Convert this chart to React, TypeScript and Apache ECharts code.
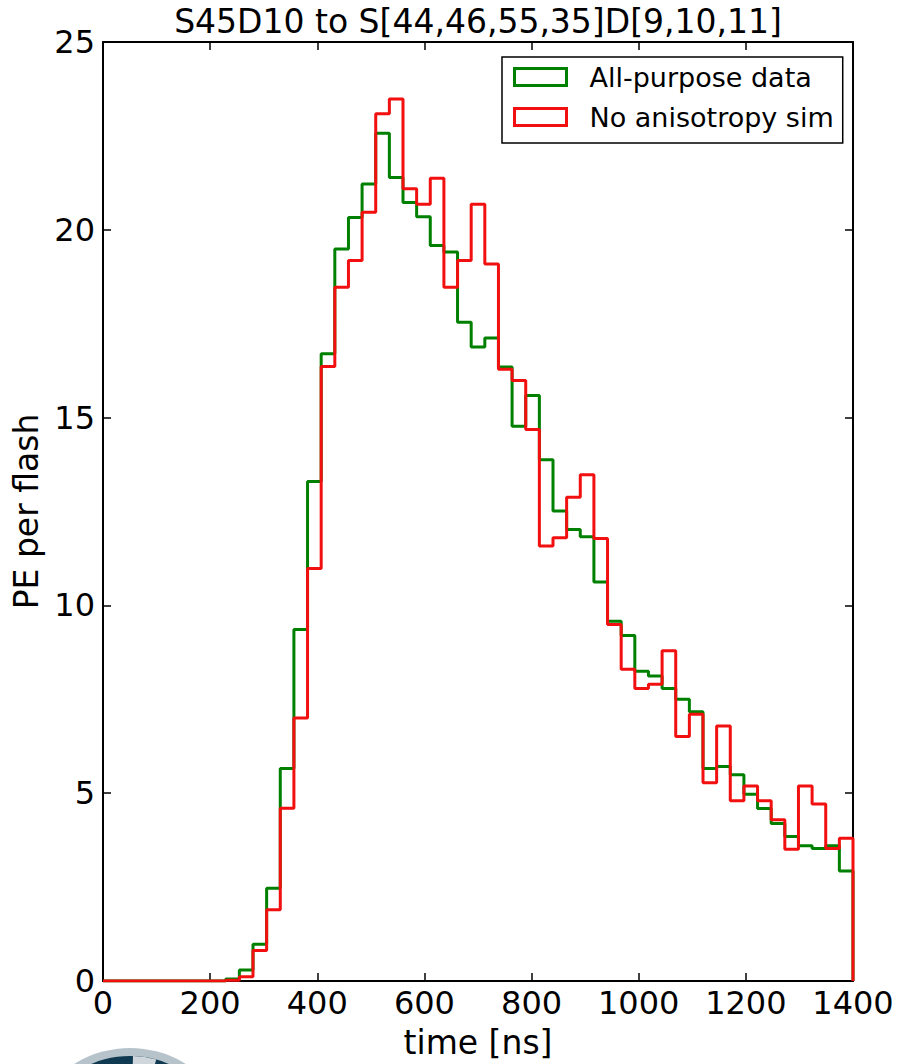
import React, { useEffect, useRef } from "react";
import * as echarts from "echarts";

const TITLE = "S45D10 to S[44,46,55,35]D[9,10,11]";
const X_NAME = "time [ns]";
const Y_NAME = "PE per flash";
const SERIES_NAMES = ["All-purpose data", "No anisotropy sim"];
const X_MIN = 0;
const X_MAX = 1400;
const X_STEP = 200;
const Y_MIN = 0;
const Y_MAX = 25;
const Y_STEP = 5;

// PE per flash in each of the 55 equal time bins between 0 and 1400 ns
const dataValues = [
  0, 0, 0, 0, 0, 0, 0, 0, 0, 0.05,
  0.29, 0.98, 2.47, 5.66, 9.36, 13.3, 16.7, 19.49, 20.33, 21.22,
  22.57, 21.39, 20.73, 20.35, 19.58, 19.41, 17.54, 16.88, 17.12, 16.35,
  14.77, 15.59, 13.88, 12.51, 12.02, 11.83, 10.62, 9.58, 9.2, 8.25,
  8.12, 7.79, 7.5, 7.17, 5.66, 5.71, 5.49, 4.97, 4.59, 4.19,
  3.85, 3.6, 3.53, 3.6, 2.93,
];
const simValues = [
  0, 0, 0, 0, 0, 0, 0, 0, 0, 0.02,
  0.11, 0.81, 1.9, 4.6, 7.0, 10.98, 16.36, 18.47, 19.18, 20.47,
  23.09, 23.48, 21.09, 20.68, 21.37, 18.47, 19.18, 20.68, 19.09, 16.29,
  15.99, 14.68, 11.58, 11.8, 12.88, 13.48, 11.78, 9.49, 8.3, 7.79,
  7.9, 8.79, 6.51, 7.1, 5.28, 6.79, 4.8, 5.19, 4.8, 4.29,
  3.51, 5.19, 4.71, 3.53, 3.8,
];

const COLORS = ["#008000", "#f20f0f"];
const FONT = "DejaVu Sans";

function toSteps(values: number[]) {
  const w = (X_MAX - X_MIN) / values.length;
  const pts: number[][] = [[X_MIN, 0]];
  values.forEach((v, i) => pts.push([X_MIN + i * w, v]));
  pts.push([X_MAX, values[values.length - 1]]);
  pts.push([X_MAX, 0]);
  return pts;
}

export default function App() {
  const ref = useRef<HTMLDivElement>(null);
  useEffect(() => {
    if (!ref.current) return;
    const chart = echarts.init(ref.current, undefined, { renderer: "svg" });
    const tickStyle = { show: true, inside: true, length: 8, lineStyle: { color: "#000", width: 1.5 } };
    const axisLine = { show: true, onZero: false, lineStyle: { color: "#000", width: 2 } };
    chart.setOption({
      animation: false,
      backgroundColor: "#fff",
      title: {
        text: TITLE,
        left: 478,
        top: 5,
        padding: 0,
        textAlign: "center",
        textStyle: { fontFamily: FONT, fontSize: 33, fontWeight: "normal", color: "#000" },
      },
      grid: { left: 103, right: 46, top: 42, bottom: 82, containLabel: false },
      legend: {
        orient: "vertical",
        left: 502,
        top: 57,
        padding: [6.5, 9, 12.5, 11],
        itemGap: 13,
        itemWidth: 52,
        itemHeight: 17,
        borderColor: "#000",
        borderWidth: 1.5,
        backgroundColor: "#fff",
        textStyle: { fontFamily: FONT, fontSize: 27, color: "#000", padding: [0, 0, 0, 18] },
        data: SERIES_NAMES.map((n, i) => ({
          name: n,
          icon: "rect",
          itemStyle: { color: "rgba(0,0,0,0)", borderColor: COLORS[i], borderWidth: 3 },
        })),
      },
      xAxis: [
        {
          type: "value",
          min: X_MIN,
          max: X_MAX,
          interval: X_STEP,
          name: X_NAME,
          nameLocation: "middle",
          nameGap: 45,
          nameTextStyle: { fontFamily: FONT, fontSize: 33, color: "#000" },
          axisLine,
          axisTick: tickStyle,
          axisLabel: {
            fontFamily: FONT,
            fontSize: 32,
            color: "#000",
            margin: 6,
            formatter: (v: number) => String(v),
          },
          splitLine: { show: false },
        },
        {
          type: "value",
          position: "top",
          min: X_MIN,
          max: X_MAX,
          interval: X_STEP,
          axisLine,
          axisTick: tickStyle,
          axisLabel: { show: false },
          splitLine: { show: false },
        },
      ],
      yAxis: [
        {
          type: "value",
          min: Y_MIN,
          max: Y_MAX,
          interval: Y_STEP,
          name: Y_NAME,
          nameLocation: "middle",
          nameGap: 56,
          nameTextStyle: { fontFamily: FONT, fontSize: 33, color: "#000" },
          axisLine,
          axisTick: tickStyle,
          axisLabel: {
            fontFamily: FONT,
            fontSize: 32,
            color: "#000",
            margin: 8,
            formatter: (v: number) => String(v),
          },
          splitLine: { show: false },
        },
        {
          type: "value",
          position: "right",
          min: Y_MIN,
          max: Y_MAX,
          interval: Y_STEP,
          axisLine,
          axisTick: tickStyle,
          axisLabel: { show: false },
          splitLine: { show: false },
        },
      ],
      series: [dataValues, simValues].map((vals, i) => ({
        name: SERIES_NAMES[i],
        type: "line",
        step: "end",
        xAxisIndex: 0,
        yAxisIndex: 0,
        showSymbol: false,
        symbol: "none",
        color: COLORS[i],
        lineStyle: { color: COLORS[i], width: 3 },
        data: toSteps(vals),
        z: 2 + i,
      })),
      graphic: [
        { type: "circle", shape: { cx: 130, cy: 1154, r: 106 }, style: { fill: "#b7c3cb" }, z: -1 },
        { type: "circle", shape: { cx: 130, cy: 1154, r: 98 }, style: { fill: "#0f3a52" }, z: -1 },
        {
          type: "sector",
          shape: { cx: 130, cy: 1154, r0: 0, r: 98, startAngle: -1.54, endAngle: -1.3 },
          style: { fill: "#d0d7dc" },
          z: -1,
        },
      ],
    });
    return () => chart.dispose();
  }, []);
  return <div ref={ref} style={{ position: "fixed", left: 0, top: 0, width: 899, height: 1064 }} />;
}
